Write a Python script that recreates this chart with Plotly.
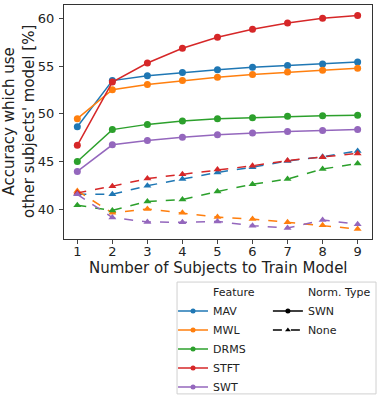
import plotly.graph_objects as go

subjects = [1, 2, 3, 4, 5, 6, 7, 8, 9]

features = ["MAV", "MWL", "DRMS", "STFT", "SWT"]
colors = {"MAV": "#1f77b4", "MWL": "#ff7f0e", "DRMS": "#2ca02c", "STFT": "#d62728", "SWT": "#9467bd"}

# accuracy with SWN normalisation
swn = {
    "MAV": [48.65, 53.5, 54.0, 54.35, 54.65, 54.9, 55.1, 55.25, 55.45],
    "MWL": [49.5, 52.55, 53.1, 53.5, 53.85, 54.15, 54.4, 54.6, 54.8],
    "DRMS": [45.0, 48.35, 48.9, 49.25, 49.5, 49.6, 49.75, 49.8, 49.85],
    "STFT": [46.7, 53.35, 55.35, 56.9, 58.05, 58.9, 59.55, 60.05, 60.35],
    "SWT": [43.95, 46.75, 47.2, 47.55, 47.8, 48.0, 48.15, 48.25, 48.35],
}
# accuracy without normalisation
none = {
    "MAV": [41.55, 41.55, 42.45, 43.15, 43.85, 44.4, 45.05, 45.5, 46.1],
    "MWL": [41.9, 39.6, 40.0, 39.6, 39.15, 38.95, 38.6, 38.3, 37.9],
    "DRMS": [40.4, 39.85, 40.8, 41.0, 41.85, 42.6, 43.15, 44.2, 44.8],
    "STFT": [41.7, 42.4, 43.2, 43.65, 44.15, 44.55, 45.1, 45.45, 45.85],
    "SWT": [41.55, 39.1, 38.65, 38.6, 38.7, 38.25, 38.0, 38.85, 38.4],
}

fig = go.Figure()

for f in features:
    fig.add_trace(go.Scatter(x=subjects, y=swn[f], mode="lines+markers", showlegend=False,
                             line=dict(color=colors[f], width=1.5),
                             marker=dict(color=colors[f], size=7, symbol="circle")))
    fig.add_trace(go.Scatter(x=subjects, y=none[f], mode="lines+markers", showlegend=False,
                             line=dict(color=colors[f], width=1.5, dash="dash"),
                             marker=dict(color=colors[f], size=7, symbol="triangle-up")))

# legend entries
fig.add_trace(go.Scatter(x=[None], y=[None], mode="lines", name="Feature", legend="legend",
                         line=dict(color="rgba(0,0,0,0)")))
for f in features:
    fig.add_trace(go.Scatter(x=[None], y=[None], mode="lines+markers", name=f, legend="legend",
                             line=dict(color=colors[f], width=1.5),
                             marker=dict(color=colors[f], size=5)))
fig.add_trace(go.Scatter(x=[None], y=[None], mode="lines", name="Norm. Type", legend="legend2",
                         line=dict(color="rgba(0,0,0,0)")))
fig.add_trace(go.Scatter(x=[None], y=[None], mode="lines+markers", name="SWN", legend="legend2",
                         line=dict(color="black", width=1.5), marker=dict(color="black", size=5)))
fig.add_trace(go.Scatter(x=[None], y=[None], mode="lines+markers", name="None", legend="legend2",
                         line=dict(color="black", width=1.5, dash="dash"),
                         marker=dict(color="black", size=5, symbol="triangle-up")))

fig.add_shape(type="rect", xref="paper", yref="paper", x0=0.367, x1=1.013, y0=-0.662, y1=-0.184,
              line=dict(color="#d0d0d0", width=1), fillcolor="white", layer="below")

# axis titles as annotations for exact placement
fig.add_annotation(text="Number of Subjects to Train Model", xref="paper", yref="paper",
                   x=0.5, y=0, xanchor="center", yanchor="middle", yshift=-29,
                   showarrow=False, font=dict(size=15))
fig.add_annotation(text="Accuracy which use<br>other subjects' model [%]", xref="paper", yref="paper",
                   x=0, y=0.5, xanchor="center", yanchor="middle", xshift=-45, textangle=-90,
                   showarrow=False, font=dict(size=15))

leg = dict(font=dict(size=11, color="#222"), bgcolor="rgba(0,0,0,0)", borderwidth=0,
           itemwidth=30, yanchor="top", xanchor="left", tracegroupgap=0)

fig.update_layout(
    width=381, height=395,
    margin=dict(l=64, r=9, t=5, b=156, autoexpand=False),
    plot_bgcolor="white", paper_bgcolor="white",
    font=dict(family="DejaVu Sans", color="#222"),
    xaxis=dict(range=[0.62, 9.41], tickvals=subjects, ticks="outside", ticklen=4, automargin=False,
               showgrid=False, zeroline=False, showline=True, linecolor="#333", mirror=True,
               tickfont=dict(size=13), ticklabelstandoff=-4),
    yaxis=dict(range=[36.85, 61.45], tickvals=[40, 45, 50, 55, 60], ticks="outside", ticklen=4,
               automargin=False, showgrid=False, zeroline=False, showline=True, linecolor="#333",
               mirror=True, tickfont=dict(size=13), ticklabelstandoff=2),
    legend=dict(x=0.354, y=-0.1645, **leg),
    legend2=dict(x=0.662, y=-0.1645, **leg),
)

fig.write_html("out.html", config={"displayModeBar": False},
               post_script="document.body.style.margin='0px';")
